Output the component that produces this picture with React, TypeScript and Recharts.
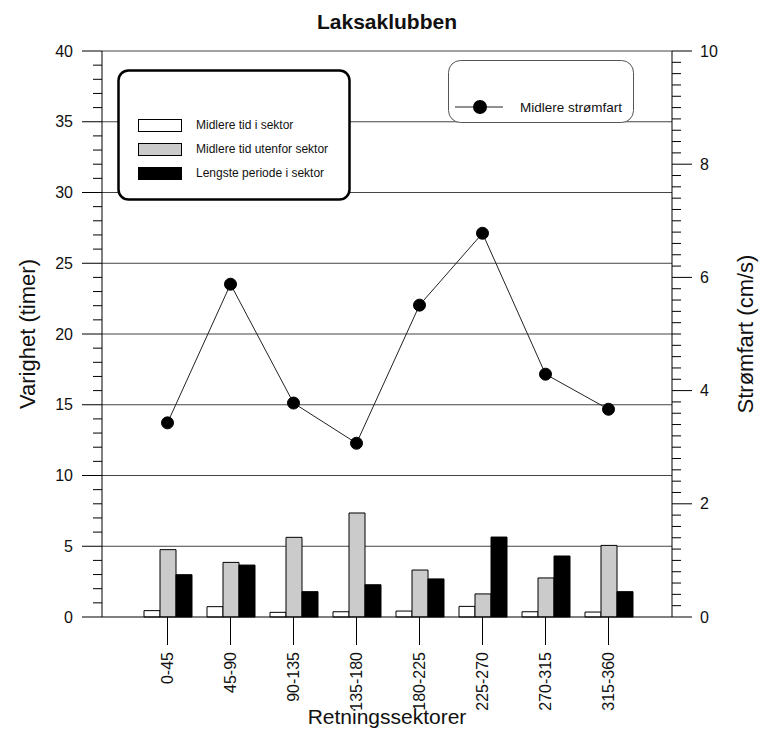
import React from 'react';
import { ComposedChart, Bar, Line, XAxis, YAxis, CartesianGrid } from 'recharts';

const sectors = ['0-45', '45-90', '90-135', '135-180', '180-225', '225-270', '270-315', '315-360'];
const meanTimeInSector = [0.45, 0.73, 0.33, 0.37, 0.42, 0.75, 0.37, 0.35];
const meanTimeOutside = [4.76, 3.86, 5.63, 7.35, 3.32, 1.63, 2.76, 5.06];
const longestPeriod = [2.99, 3.67, 1.79, 2.28, 2.69, 5.65, 4.31, 1.79];
const meanSpeed = [3.43, 5.88, 3.78, 3.07, 5.51, 6.78, 4.29, 3.67];

const leftMajorTicks = [0, 5, 10, 15, 20, 25, 30, 35, 40];
const rightMajorTicks = [0, 2, 4, 6, 8, 10];
const gridValues = [5, 10, 15, 20, 25, 30, 35, 40];

// minor ticks: every 1 on the left axis, every 0.2 on the right axis
const leftTicks = Array.from({ length: 41 }, (_, i) => i);
const rightTicks = Array.from({ length: 51 }, (_, i) => Math.round(i * 2) / 10);

const FONT = '"Liberation Sans", Arial, sans-serif';
const GRAY = '#cbcbcb';

const data = sectors.map((sector, i) => ({
  sector,
  inside: meanTimeInSector[i],
  outside: meanTimeOutside[i],
  longest: longestPeriod[i],
  speed: meanSpeed[i],
}));

const LeftTick = (props: any) => {
  const { x, y, payload } = props;
  const major = leftMajorTicks.includes(payload.value);
  return (
    <g>
      <line x1={x - (major ? 20 : 9)} x2={x} y1={y} y2={y} stroke="#000" />
      {major && (
        <text x={x - 29} y={y} dy="0.35em" textAnchor="end" fontSize={16} fill="#111" fontFamily={FONT}>
          {payload.value}
        </text>
      )}
    </g>
  );
};

const RightTick = (props: any) => {
  const { x, y, payload } = props;
  const major = rightMajorTicks.some((t) => Math.abs(t - payload.value) < 1e-6);
  return (
    <g>
      <line x1={x} x2={x + (major ? 20 : 9)} y1={y} y2={y} stroke="#000" />
      {major && (
        <text x={x + 28} y={y} dy="0.35em" textAnchor="start" fontSize={16} fill="#111" fontFamily={FONT}>
          {payload.value}
        </text>
      )}
    </g>
  );
};

const BottomTick = (props: any) => {
  const { x, y, payload } = props;
  return (
    <g>
      <line x1={x} x2={x} y1={y} y2={y + 28} stroke="#000" />
      <text
        transform={`translate(${x},${y + 35}) rotate(-90)`}
        dy="0.35em"
        textAnchor="end"
        fontSize={16}
        fill="#111"
        fontFamily={FONT}
      >
        {payload.value}
      </text>
    </g>
  );
};

export default function App() {
  return (
    <div style={{ position: 'absolute', left: 0, top: 0, width: 767, height: 732, background: '#fff' }}>
      <ComposedChart
        width={767}
        height={732}
        data={data}
        margin={{ top: 51, right: 0, bottom: 0, left: 0 }}
        barGap={0}
        barSize={16}
      >
        <CartesianGrid
          yAxisId="left"
          vertical={false}
          horizontalValues={gridValues}
          stroke="#444"
          strokeWidth={1}
        />
        <XAxis
          dataKey="sector"
          height={115}
          padding={{ left: 34, right: 32 }}
          tickSize={0}
          tickMargin={0}
          interval={0}
          tick={<BottomTick />}
          axisLine={{ stroke: '#000' }}
        />
        <YAxis
          yAxisId="left"
          width={102}
          domain={[0, 40]}
          ticks={leftTicks}
          interval={0}
          tickSize={0}
          tickMargin={0}
          tick={<LeftTick />}
          axisLine={{ stroke: '#000' }}
        />
        <YAxis
          yAxisId="right"
          orientation="right"
          width={95}
          domain={[0, 10]}
          ticks={rightTicks}
          interval={0}
          tickSize={0}
          tickMargin={0}
          tick={<RightTick />}
          axisLine={{ stroke: '#000' }}
        />
        <Bar yAxisId="left" dataKey="inside" fill="#fff" stroke="#000" strokeWidth={1} isAnimationActive={false} />
        <Bar yAxisId="left" dataKey="outside" fill={GRAY} stroke="#000" strokeWidth={1} isAnimationActive={false} />
        <Bar yAxisId="left" dataKey="longest" fill="#000" stroke="#000" strokeWidth={1} isAnimationActive={false} />
        <Line
          yAxisId="right"
          dataKey="speed"
          stroke="#222"
          strokeWidth={1}
          dot={{ r: 6, fill: '#000', stroke: '#000', strokeWidth: 1 }}
          isAnimationActive={false}
        />
      </ComposedChart>

      <svg
        width={767}
        height={732}
        style={{ position: 'absolute', left: 0, top: 0, pointerEvents: 'none' }}
        fontFamily={FONT}
      >
        <text x={387} y={22} dy="0.35em" textAnchor="middle" fontSize={21} fontWeight="bold" fill="#111">
          Laksaklubben
        </text>
        <text transform="translate(27,334) rotate(-90)" dy="0.35em" textAnchor="middle" fontSize={22} fill="#111">
          Varighet (timer)
        </text>
        <text transform="translate(745,334) rotate(-90)" dy="0.35em" textAnchor="middle" fontSize={22} fill="#111">
          Strømfart (cm/s)
        </text>
        <text x={387} y={717} dy="0.35em" textAnchor="middle" fontSize={21} fill="#111">
          Retningssektorer
        </text>

        <rect x={118.5} y={70.5} width={231} height={129} rx={10} fill="#fff" stroke="#000" strokeWidth={2.5} />
        <rect x={138.5} y={119.5} width={43} height={12} fill="#fff" stroke="#000" />
        <text x={196} y={125} dy="0.35em" fontSize={12} fill="#111">Midlere tid i sektor</text>
        <rect x={138.5} y={143.5} width={43} height={12} fill={GRAY} stroke="#000" />
        <text x={196} y={149} dy="0.35em" fontSize={12} fill="#111">Midlere tid utenfor sektor</text>
        <rect x={138.5} y={167.5} width={43} height={12} fill="#000" stroke="#000" />
        <text x={196} y={173} dy="0.35em" fontSize={12} fill="#111">Lengste periode i sektor</text>

        <rect x={448.5} y={60.5} width={185} height={62} rx={12} fill="#fff" stroke="#555" strokeWidth={1} />
        <line x1={455} x2={503} y1={107} y2={107} stroke="#222" />
        <circle cx={480} cy={107} r={7} fill="#000" />
        <text x={520} y={107} dy="0.35em" fontSize={13.5} fill="#111">Midlere strømfart</text>
      </svg>
    </div>
  );
}
